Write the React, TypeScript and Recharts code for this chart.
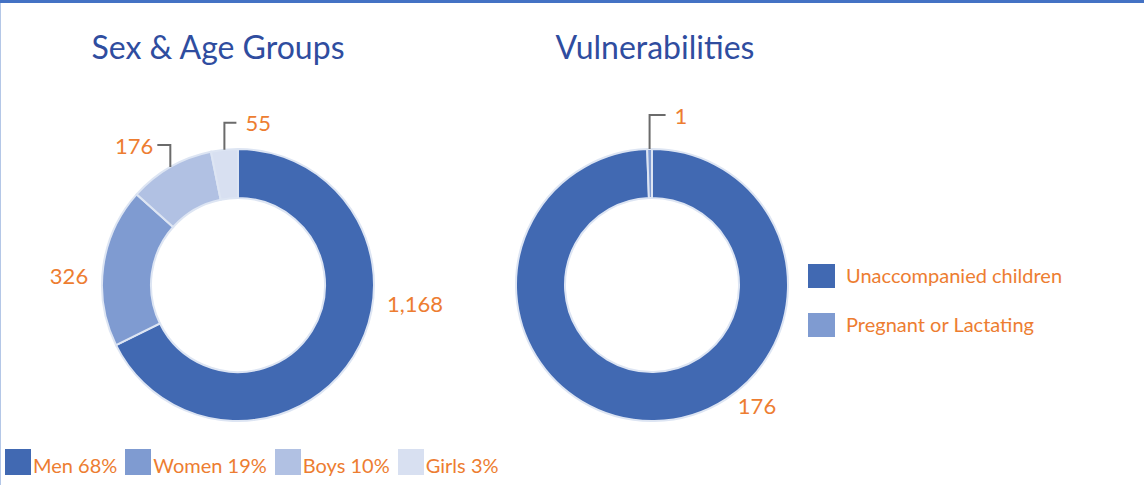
import React from 'react'
import { PieChart, Pie, Cell } from 'recharts'

// data
const sexAgeNames = ['Men', 'Women', 'Boys', 'Girls']
const sexAgeValues = [1168, 326, 176, 55]
const sexAgePct = ['68%', '19%', '10%', '3%']

const vulnNames = ['Unaccompanied children', 'Pregnant or Lactating']
const vulnValues = [176, 1]

const SEX_COLORS = ['#4169b2', '#7f9bd1', '#b1c1e3', '#d8e0f1']
const VULN_COLORS = ['#4169b2', '#7f9bd1']
const ORANGE = '#ed7d31'
const TITLE = '#2f4d9f'
const FONT = 'Lato, "Open Sans", sans-serif'

const sexData = sexAgeNames.map((n, i) => ({ name: n, value: sexAgeValues[i] }))
const vulnData = vulnNames.map((n, i) => ({ name: n, value: vulnValues[i] }))

// label placement: 'free' = text offset from center, 'lead' = leader line from slice edge
const sexLabelPos: any[] = [
  { kind: 'free', dx: 177, dy: 18 },
  { kind: 'free', dx: -169, dy: -10 },
  { kind: 'lead', up: 22, side: -13 },
  { kind: 'lead', up: 27, side: 12 },
]
const vulnLabelPos: any[] = [
  { kind: 'free', dx: 105, dy: 120 },
  { kind: 'lead', up: 34, side: 16 },
]

const fmt = (v: number) => v.toLocaleString('en-US')

function makeLabel(pos: any[]) {
  return (p: any) => {
    const cfg = pos[p.index]
    const { cx, cy, midAngle, outerRadius, value } = p
    if (cfg.kind === 'free') {
      return (
        <text x={cx + cfg.dx} y={cy + cfg.dy} fill={ORANGE} fontSize={22} fontFamily={FONT}
          textAnchor="middle" dominantBaseline="central">{fmt(value)}</text>
      )
    }
    const rad = (Math.PI / 180) * midAngle
    const x0 = cx + outerRadius * Math.cos(rad)
    const y0 = cy - outerRadius * Math.sin(rad)
    const y1 = y0 - cfg.up
    const x1 = x0 + cfg.side
    const tx = x1 + (cfg.side > 0 ? 9 : -4)
    return (
      <g>
        <polyline points={`${x0},${y0} ${x0},${y1} ${x1},${y1}`} fill="none" stroke="#6b6b6b" strokeWidth={2} />
        <text x={tx} y={y1} fill={ORANGE} fontSize={22} fontFamily={FONT}
          textAnchor={cfg.side > 0 ? 'start' : 'end'} dominantBaseline="central">{fmt(value)}</text>
      </g>
    )
  }
}

export default function App() {
  return (
    <div style={{ position: 'absolute', left: 0, top: 0, width: 1144, height: 485, background: '#fff', overflow: 'hidden' }}>
      <div style={{ position: 'absolute', left: 0, top: 0, width: 1144, height: 3, background: '#4472c4' }} />
      <div style={{ position: 'absolute', left: 0, top: 3, width: 1, height: 482, background: '#b4c7e7' }} />

      <div style={{ position: 'absolute', left: 0, width: 436, top: 27, textAlign: 'center', color: TITLE, fontFamily: FONT, fontSize: 32, lineHeight: '40px' }}>
        Sex &amp; Age Groups
      </div>
      <div style={{ position: 'absolute', left: 455, width: 400, top: 27, textAlign: 'center', color: TITLE, fontFamily: FONT, fontSize: 32, lineHeight: '40px' }}>
        Vulnerabilities
      </div>

      <div style={{ position: 'absolute', left: 0, top: 0 }}>
        <PieChart width={1144} height={485} margin={{ top: 0, right: 0, bottom: 0, left: 0 }}>
          <Pie data={sexData} dataKey="value" nameKey="name" cx={238} cy={285} innerRadius={87} outerRadius={136}
            startAngle={90} endAngle={-270} stroke="#dde5f3" strokeWidth={2}
            label={makeLabel(sexLabelPos)} labelLine={false} isAnimationActive={false}>
            {sexData.map((d, i) => <Cell key={d.name} fill={SEX_COLORS[i]} />)}
          </Pie>
          <Pie data={vulnData} dataKey="value" nameKey="name" cx={652} cy={285} innerRadius={87} outerRadius={136}
            startAngle={90} endAngle={-270} stroke="#dde5f3" strokeWidth={2}
            label={makeLabel(vulnLabelPos)} labelLine={false} isAnimationActive={false}>
            {vulnData.map((d, i) => <Cell key={d.name} fill={VULN_COLORS[i]} />)}
          </Pie>
        </PieChart>
      </div>

      {/* bottom legend */}
      <div style={{ position: 'absolute', left: 5, top: 447, display: 'flex', alignItems: 'center', fontFamily: FONT, fontSize: 20, color: ORANGE }}>
        {sexAgeNames.map((n, i) => (
          <div key={n} style={{ display: 'flex', alignItems: 'center', marginRight: 8 }}>
            <div style={{ width: 26, height: 26, background: SEX_COLORS[i], marginRight: 2 }} />
            <span style={{ paddingTop: 6 }}>{n} {sexAgePct[i]}</span>
          </div>
        ))}
      </div>

      {/* right legend */}
      <div style={{ position: 'absolute', left: 808, top: 264, fontFamily: FONT, fontSize: 20, color: ORANGE }}>
        {vulnNames.map((n, i) => (
          <div key={n} style={{ display: 'flex', alignItems: 'center', height: 24, marginBottom: 25 }}>
            <div style={{ width: 27, height: 24, background: VULN_COLORS[i], marginRight: 11 }} />
            <span style={{ marginTop: -2 }}>{n}</span>
          </div>
        ))}
      </div>
    </div>
  )
}
